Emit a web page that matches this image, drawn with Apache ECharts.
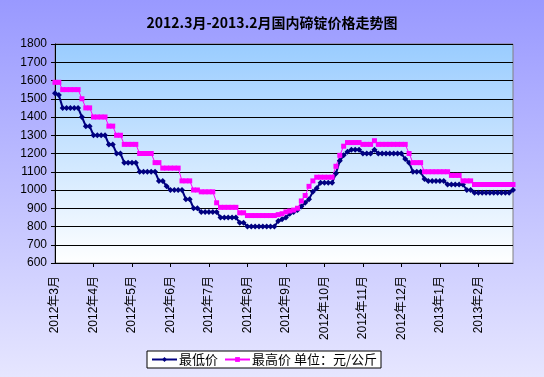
<!DOCTYPE html>
<html>
<head>
<meta charset="utf-8">
<script src="https://cdn.jsdelivr.net/npm/echarts@6/dist/echarts.min.js"></script>
<style>
html, body { margin: 0; padding: 0; }
#chart { width: 544px; height: 377px; }
</style>
</head>
<body>
<div id="chart"></div>
<script>
// month labels, one every 10 points
var monthLabels = ['2012年3月', '2012年4月', '2012年5月', '2012年6月', '2012年7月', '2012年8月',
	'2012年9月', '2012年10月', '2012年11月', '2012年12月', '2013年1月', '2013年2月']
var pointsPerMonth = 10

// 最低价
var lowPrice = [
	1530, 1520, 1450, 1450, 1450, 1450, 1450, 1400, 1350, 1350,
	1300, 1300, 1300, 1300, 1250, 1250, 1200, 1200, 1150, 1150,
	1150, 1150, 1100, 1100, 1100, 1100, 1100, 1050, 1050, 1020,
	1000, 1000, 1000, 1000, 950, 950, 900, 900, 880, 880,
	880, 880, 880, 850, 850, 850, 850, 850, 820, 820,
	800, 800, 800, 800, 800, 800, 800, 800, 830, 840,
	850, 870, 880, 890, 910, 930, 950, 990, 1010, 1040,
	1040, 1040, 1040, 1090, 1160, 1190, 1210, 1220, 1220, 1220,
	1200, 1200, 1200, 1220, 1200, 1200, 1200, 1200, 1200, 1200,
	1200, 1170, 1150, 1100, 1100, 1100, 1060, 1050, 1050, 1050,
	1050, 1050, 1030, 1030, 1030, 1030, 1030, 1000, 1000, 985,
	985, 985, 985, 985, 985, 985, 985, 985, 985, 1000
]

// 最高价
var highPrice = [
	1590, 1590, 1550, 1550, 1550, 1550, 1550, 1500, 1450, 1450,
	1400, 1400, 1400, 1400, 1350, 1350, 1300, 1300, 1250, 1250,
	1250, 1250, 1200, 1200, 1200, 1200, 1150, 1150, 1120, 1120,
	1120, 1120, 1120, 1050, 1050, 1050, 1000, 1000, 990, 990,
	990, 990, 930, 905, 905, 905, 905, 905, 875, 875,
	860, 860, 860, 860, 860, 860, 860, 860, 865, 870,
	880, 885, 890, 900, 940, 970, 1020, 1050, 1070, 1070,
	1070, 1070, 1070, 1130, 1190, 1240, 1260, 1260, 1260, 1260,
	1250, 1250, 1250, 1270, 1250, 1250, 1250, 1250, 1250, 1250,
	1250, 1250, 1200, 1150, 1150, 1150, 1100, 1100, 1100, 1100,
	1100, 1100, 1100, 1080, 1080, 1080, 1050, 1050, 1050, 1030,
	1030, 1030, 1030, 1030, 1030, 1030, 1030, 1030, 1030, 1030
]

var categories = lowPrice.map(function (v, i) { return i })

var chart = echarts.init(document.getElementById('chart'))
chart.setOption({
	backgroundColor: new echarts.graphic.LinearGradient(0, 0, 0, 1, [
		{ offset: 0, color: '#9999FF' },
		{ offset: 1, color: '#E6E6FF' }
	]),
	animation: false,
	title: {
		text: '2012.3月-2013.2月国内碲锭价格走势图',
		left: 'center',
		top: 11,
		textStyle: {
			fontFamily: 'Noto Sans CJK SC',
			fontWeight: 'bold',
			fontSize: 14,
			color: '#000'
		}
	},
	grid: {
		left: 55,
		right: 31,
		top: 44,
		bottom: 114,
		show: true,
		borderColor: '#808080',
		borderWidth: 1,
		backgroundColor: new echarts.graphic.LinearGradient(0, 0, 0, 1, [
			{ offset: 0, color: '#99CCFF' },
			{ offset: 1, color: '#FFFFFF' }
		])
	},
	legend: {
		left: 147,
		top: 351,
		padding: [2, 4],
		itemGap: 6,
		itemWidth: 25,
		itemHeight: 6,
		backgroundColor: '#FFFFFF',
		borderColor: '#000',
		borderWidth: 1,
		borderRadius: 0,
		textStyle: {
			fontFamily: 'Noto Sans CJK SC',
			fontSize: 13,
			color: '#000',
			padding: [0, 0, 0, -3]
		},
		formatter: function (name) {
			return name === '最高价' ? '最高价 单位：元/公斤' : name
		},
		data: ['最低价', '最高价']
	},
	xAxis: {
		type: 'category',
		data: categories,
		boundaryGap: false,
		axisLine: { lineStyle: { color: '#000', width: 1 } },
		axisTick: {
			length: 4,
			interval: function (i) { return i % pointsPerMonth === 0 && i > 0 },
			lineStyle: { color: '#000' }
		},
		axisLabel: {
			rotate: 90,
			margin: 13,
			interval: function (i) { return i % pointsPerMonth === 0 },
			formatter: function (v) { return monthLabels[Math.floor(v / pointsPerMonth)] },
			fontFamily: 'Liberation Sans, Noto Sans CJK SC',
			fontSize: 12,
			color: '#000'
		},
		splitLine: { show: false }
	},
	yAxis: {
		type: 'value',
		min: 600,
		max: 1800,
		interval: 100,
		axisLine: { show: true, lineStyle: { color: '#000', width: 1 } },
		axisTick: { show: true, length: 4, lineStyle: { color: '#000' } },
		axisLabel: {
			margin: 8,
			formatter: function (v) { return String(v) },
			fontFamily: 'Liberation Sans',
			fontSize: 12,
			color: '#000'
		},
		splitLine: { lineStyle: { color: '#000', width: 1 } }
	},
	series: [
		{
			name: '最低价',
			type: 'line',
			data: lowPrice,
			symbol: 'diamond',
			symbolSize: 6,
			showAllSymbol: true,
			color: '#000080',
			lineStyle: { width: 2, color: '#000080' },
			itemStyle: { color: '#000080' }
		},
		{
			name: '最高价',
			type: 'line',
			data: highPrice,
			symbol: 'rect',
			symbolSize: 5,
			showAllSymbol: true,
			color: '#FF00FF',
			lineStyle: { width: 1, color: '#FF00FF' },
			itemStyle: { color: '#FF00FF' }
		}
	]
})
</script>
</body>
</html>
